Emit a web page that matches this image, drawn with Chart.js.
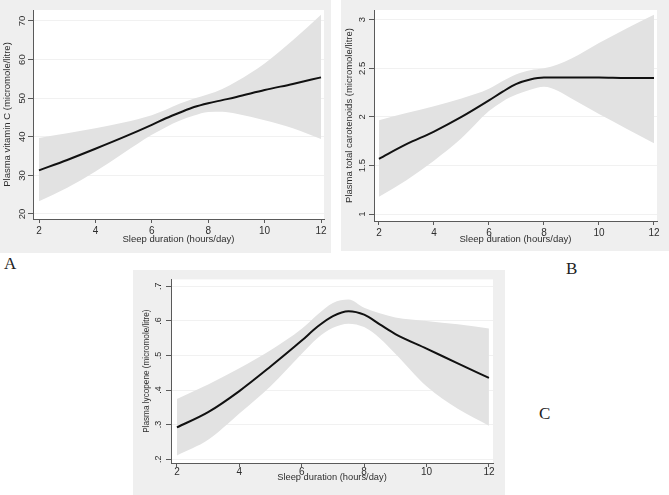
<!DOCTYPE html>
<html>
<head>
<meta charset="utf-8">
<script src="https://cdn.jsdelivr.net/npm/chart.js@4.4.1/dist/chart.umd.min.js"></script>
<style>
  html, body { margin: 0; padding: 0; background: #ffffff; }
  body { width: 669px; height: 495px; position: relative; overflow: hidden; }
  canvas { position: absolute; background: #efefef; }
  .panel-label { position: absolute; font-family: "Liberation Serif", "Times New Roman", serif; font-size: 17px; color: #222; line-height: 1; }
</style>
</head>
<body>
<canvas id="chartA" width="331" height="253" style="left:0px;top:0px;"></canvas>
<canvas id="chartB" width="328" height="251" style="left:341px;top:0px;"></canvas>
<canvas id="chartC" width="372" height="225" style="left:133px;top:270px;"></canvas>
<div class="panel-label" style="left:4px;top:255px;">A</div>
<div class="panel-label" style="left:566px;top:260px;">B</div>
<div class="panel-label" style="left:539px;top:405px;">C</div>
<script>
// ---------- data ----------
const sleepHours = [2, 3, 4, 5, 6, 6.5, 7, 7.5, 8, 8.5, 9, 10, 11, 12];
const xTickValues = [2, 4, 6, 8, 10, 12];

// Panel A: plasma vitamin C
const vitCFit   = [31.3, 34.0, 36.9, 39.9, 43.1, 44.8, 46.3, 47.7, 48.7, 49.5, 50.3, 52.1, 53.7, 55.4];
const vitCUpper = [39.7, 40.9, 42.2, 43.7, 45.6, 47.0, 48.6, 49.9, 51.0, 52.4, 54.3, 59.0, 65.0, 71.6];
const vitCLower = [23.3, 26.8, 31.0, 35.8, 40.5, 42.5, 44.2, 45.5, 46.4, 46.5, 46.0, 44.3, 42.2, 39.4];
const vitCTicks = [20, 30, 40, 50, 60, 70];
const vitCTickLabels = ['20', '30', '40', '50', '60', '70'];

// Panel B: plasma total carotenoids
const carotFit   = [1.57, 1.72, 1.85, 2.00, 2.17, 2.26, 2.34, 2.385, 2.405, 2.405, 2.405, 2.405, 2.40, 2.40];
const carotUpper = [1.965, 2.04, 2.11, 2.19, 2.29, 2.37, 2.44, 2.48, 2.50, 2.54, 2.60, 2.76, 2.91, 3.05];
const carotLower = [1.18, 1.35, 1.55, 1.78, 2.06, 2.16, 2.23, 2.28, 2.31, 2.27, 2.19, 2.03, 1.88, 1.73];
const carotTicks = [1, 1.5, 2, 2.5, 3];
const carotTickLabels = ['1', '1.5', '2', '2.5', '3'];

// Panel C: plasma lycopene
const lycoFit   = [0.292, 0.336, 0.397, 0.468, 0.543, 0.583, 0.614, 0.628, 0.618, 0.590, 0.562, 0.520, 0.477, 0.435];
const lycoUpper = [0.374, 0.416, 0.463, 0.515, 0.577, 0.618, 0.652, 0.662, 0.638, 0.622, 0.610, 0.600, 0.590, 0.578];
const lycoLower = [0.211, 0.256, 0.332, 0.411, 0.505, 0.550, 0.580, 0.592, 0.582, 0.550, 0.505, 0.411, 0.346, 0.297];
const lycoTicks = [0.2, 0.3, 0.4, 0.5, 0.6, 0.7];
const lycoTickLabels = ['.2', '.3', '.4', '.5', '.6', '.7'];

const xTitle = 'Sleep duration (hours/day)';

// ---------- drawing ----------
const plotBg = {
  id: 'plotBg',
  beforeDraw(chart) {
    const { ctx, chartArea: a } = chart;
    ctx.save();
    ctx.fillStyle = '#ffffff';
    ctx.fillRect(a.left, a.top, a.right - a.left, a.bottom - a.top);
    ctx.restore();
  }
};

function toPoints(ys) { return sleepHours.map((x, i) => ({ x: x, y: ys[i] })); }

const SANS = '"Liberation Sans", Arial, sans-serif';

function makeChart(id, o) {
  const axisColor = '#5a5a5a';
  const textColor = '#2e2e2e';
  return new Chart(document.getElementById(id), {
    type: 'line',
    data: {
      datasets: [
        { label: 'fit', data: toPoints(o.fit), borderColor: '#111111', borderWidth: 2, pointRadius: 0, fill: false, cubicInterpolationMode: 'monotone' },
        { label: 'upper', data: toPoints(o.upper), borderColor: 'rgba(0,0,0,0)', borderWidth: 1, pointRadius: 0, backgroundColor: '#e2e2e2', fill: '+1', cubicInterpolationMode: 'monotone' },
        { label: 'lower', data: toPoints(o.lower), borderColor: 'rgba(0,0,0,0)', borderWidth: 1, pointRadius: 0, fill: false, cubicInterpolationMode: 'monotone' }
      ]
    },
    options: {
      responsive: false,
      animation: false,
      devicePixelRatio: 1,
      layout: { padding: o.padding },
      plugins: { legend: { display: false }, tooltip: { enabled: false } },
      scales: {
        x: {
          type: 'linear',
          min: o.xMin, max: o.xMax,
          afterBuildTicks: s => { s.ticks = xTickValues.map(v => ({ value: v })); },
          afterFit: s => { s.height = o.xH; },
          ticks: { color: textColor, font: { family: SANS, size: o.xTickSize }, padding: o.xTickPad, maxRotation: 0, minRotation: 0, autoSkip: false,
                   callback: v => String(v) },
          grid: { drawOnChartArea: false, drawTicks: true, tickLength: 4, tickColor: axisColor },
          border: { display: true, color: axisColor, width: 1 },
          title: { display: true, text: xTitle, color: textColor, font: { family: SANS, size: o.xTitleSize }, padding: { top: 0, bottom: o.xTitlePad } }
        },
        y: {
          type: 'linear',
          min: o.yMin, max: o.yMax,
          afterBuildTicks: s => { s.ticks = o.yTicks.map(v => ({ value: v })); },
          afterFit: s => { s.width = o.yW; },
          ticks: { color: textColor, font: { family: SANS, size: o.yTickSize }, padding: o.yTickPad, minRotation: 90, maxRotation: 90, crossAlign: 'center', autoSkip: false,
                   callback: v => { const i = o.yTicks.findIndex(t => Math.abs(t - v) < 1e-9); return i >= 0 ? o.yTickLabels[i] : ''; } },
          grid: { drawOnChartArea: true, color: '#f1f1f1', drawTicks: true, tickLength: 5, tickColor: axisColor },
          border: { display: true, color: axisColor, width: 1 },
          title: { display: true, text: o.yTitle, color: textColor, font: { family: SANS, size: o.yTitleSize }, padding: { top: o.yTitlePad, bottom: 0 } }
        }
      }
    },
    plugins: [plotBg]
  });
}

makeChart('chartA', {
  fit: vitCFit, upper: vitCUpper, lower: vitCLower,
  yTicks: vitCTicks, yTickLabels: vitCTickLabels,
  yTitle: 'Plasma vitamin C (micromole/litre)',
  xMin: 1.787, xMax: 12.106, yMin: 18.7, yMax: 72.85,
  padding: { left: 0, right: 7, top: 10, bottom: 0 },
  yW: 33, xH: 34, xTickSize: 10, xTitleSize: 9.5, yTickSize: 9.5, yTitleSize: 9.5,
  xTickPad: 2.5, yTickPad: 0.5, xTitlePad: 7.5, yTitlePad: 2
});

makeChart('chartB', {
  fit: carotFit, upper: carotUpper, lower: carotLower,
  yTicks: carotTicks, yTickLabels: carotTickLabels,
  yTitle: 'Plasma total carotenoids (micromole/litre)',
  xMin: 1.82, xMax: 12.11, yMin: 0.93, yMax: 3.10,
  padding: { left: 0, right: 12, top: 10, bottom: 0 },
  yW: 33, xH: 30, xTickSize: 10, xTitleSize: 9.5, yTickSize: 9.5, yTitleSize: 9.5,
  xTickPad: 2.5, yTickPad: 0.5, xTitlePad: 5.5, yTitlePad: 3
});

makeChart('chartC', {
  fit: lycoFit, upper: lycoUpper, lower: lycoLower,
  yTicks: lycoTicks, yTickLabels: lycoTickLabels,
  yTitle: 'Plasma lycopene (micromole/litre)',
  xMin: 1.81, xMax: 12.13, yMin: 0.189, yMax: 0.72,
  padding: { left: 0, right: 12, top: 5, bottom: 0 },
  yW: 38, xH: 32, xTickSize: 10, xTitleSize: 9.3, yTickSize: 9, yTitleSize: 8.2,
  xTickPad: -1, yTickPad: 4, xTitlePad: 11.5, yTitlePad: 9
});
</script>
</body>
</html>
